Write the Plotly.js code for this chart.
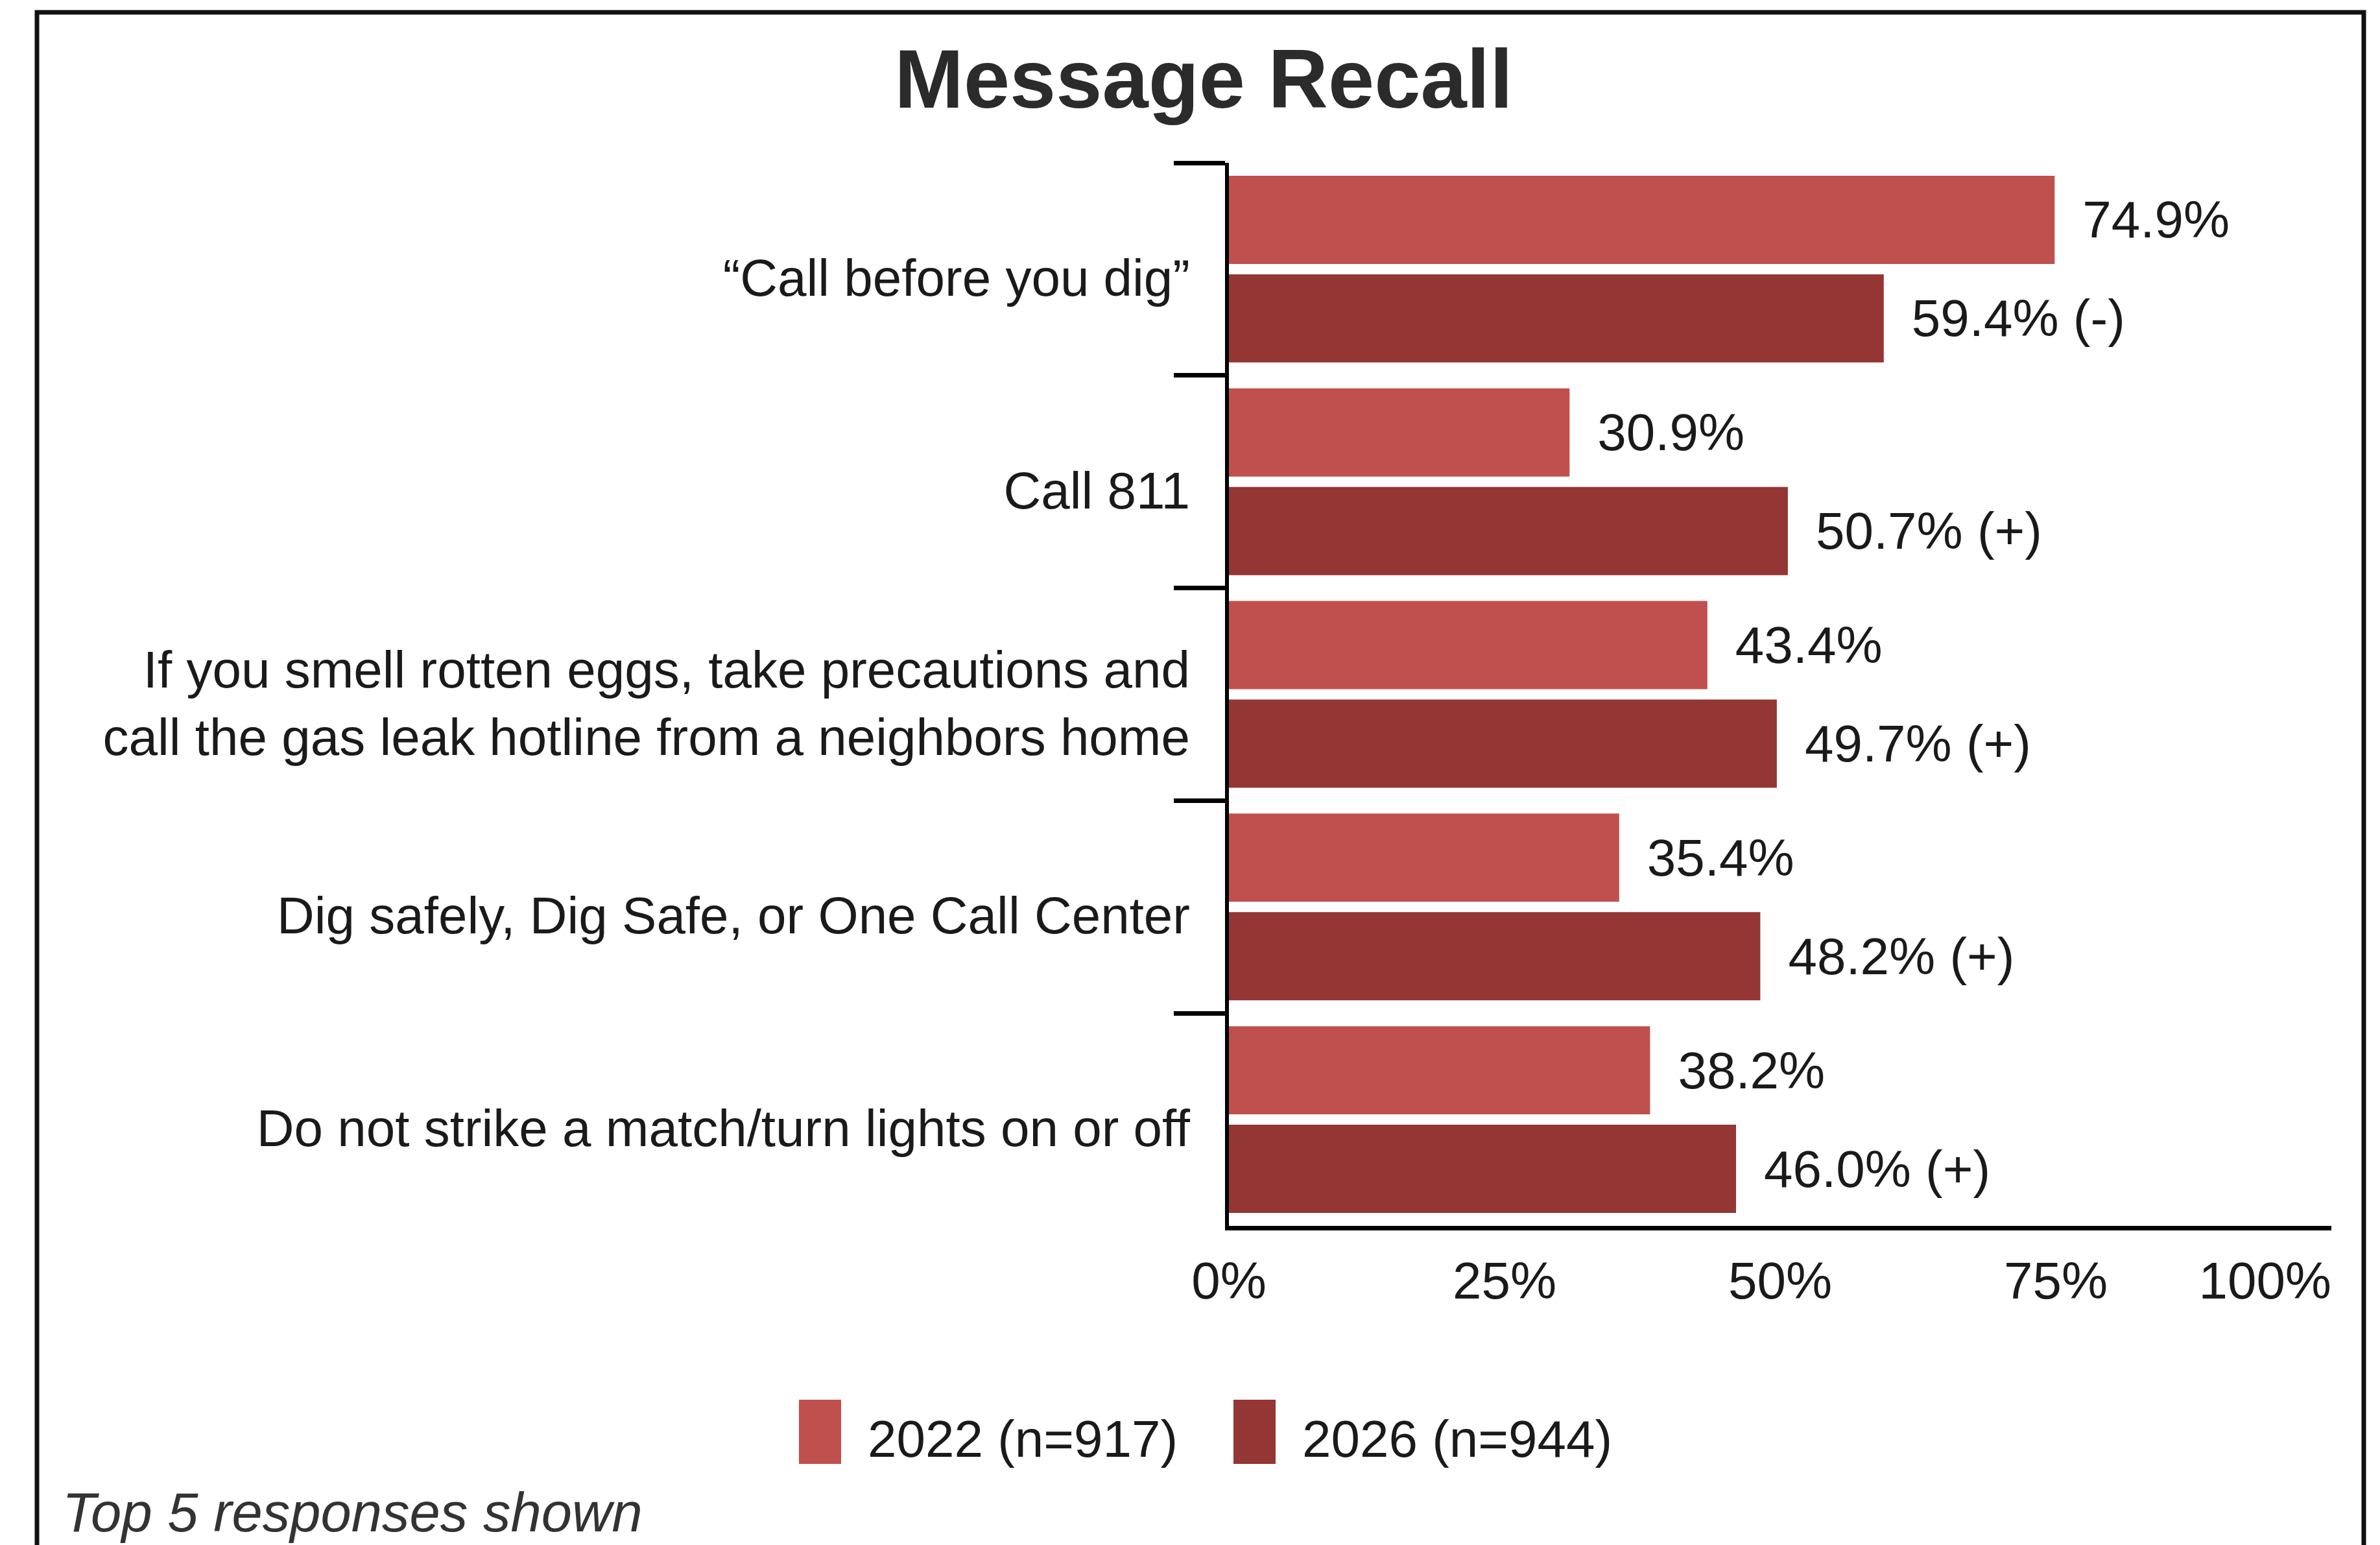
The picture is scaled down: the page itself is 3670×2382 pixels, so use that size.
<!DOCTYPE html>
<html>
<head>
<meta charset="utf-8">
<script src="https://cdn.plot.ly/plotly-3.0.1.min.js"></script>
<style>html,body{margin:0;padding:0;background:#fff;}#chart{width:3670px;height:2382px;}</style>
</head>
<body>
<div id="chart"></div>
<script>
// ---- data ----
const categories = [
  "\u201CCall before you dig\u201D",
  "Call 811",
  "If you smell rotten eggs, take precautions and<br>call the gas leak hotline from a neighbors home",
  "Dig safely, Dig Safe, or One Call Center",
  "Do not strike a match/turn lights on or off"
];
const seriesNames = ["2022 (n=917)", "2026 (n=944)"];
const values2022 = [74.9, 30.9, 43.4, 35.4, 38.2];
const values2026 = [59.4, 50.7, 49.7, 48.2, 46.0];
const sig2026 = ["(-)", "(+)", "(+)", "(+)", "(+)"];
const xTickVals = [0, 25, 50, 75];
const xTickText = ["0%", "25%", "50%", "75%"];
const xLastTickVal = [100];
const xLastTickText = ["100%"];
const chartTitle = "Message Recall";
const footnote = "Top 5 responses shown";

// ---- styles ----
const colors = ["#C0504D", "#943634"];
const FONT = "'Liberation Sans', Arial, sans-serif";
const TXT = "#1a1a1a";
const FS = 80;
const W = 3670, H = 2382;
const M = {l: 1895, r: 75, t: 251, b: 492};
const PW = W - M.l - M.r, PH = H - M.t - M.b;
const px = x => (x - M.l) / PW;
const py = y => (H - M.b - y) / PH;

const fmt = (v, s) => "\u2002" + v.toFixed(1) + "%" + (s ? " " + s : "");

const traces = [
  {
    type: "bar", orientation: "h", name: seriesNames[0],
    y: categories, x: values2022,
    marker: {color: colors[0]},
    text: values2022.map(v => fmt(v, "")),
    textposition: "outside", constraintext: "none", cliponaxis: false,
    textfont: {family: FONT, size: FS, color: TXT},
    hoverinfo: "skip", showlegend: false
  },
  {
    type: "bar", orientation: "h", name: seriesNames[1],
    y: categories, x: values2026,
    marker: {color: colors[1]},
    text: values2026.map((v, i) => fmt(v, sig2026[i])),
    textposition: "outside", constraintext: "none", cliponaxis: false,
    textfont: {family: FONT, size: FS, color: TXT},
    hoverinfo: "skip", showlegend: false
  },
  {
    // invisible helper to activate the overlay axis for the last tick label
    type: "scatter", mode: "markers", x: [null], y: [null], xaxis: "x2",
    showlegend: false, hoverinfo: "skip"
  }
];

// legend built from series names / colors
const legendItems = [
  {sq: [1232, 1297], tx: 1336},
  {sq: [1902, 1967], tx: 2006}
];
const shapes = [
  {type: "rect", xref: "paper", yref: "paper",
   x0: px(57), x1: px(3645), y0: py(19), y1: py(2420),
   line: {color: "#111", width: 7}, fillcolor: "rgba(0,0,0,0)", layer: "above"}
];
const annotations = [
  {xref: "paper", yref: "paper", x: px(94), y: py(2331), xanchor: "left", yanchor: "middle",
   text: "<i>" + footnote + "</i>", showarrow: false,
   font: {family: FONT, size: 85, color: "#333"}}
];
legendItems.forEach((it, i) => {
  shapes.push({type: "rect", xref: "paper", yref: "paper",
    x0: px(it.sq[0]), x1: px(it.sq[1]), y0: py(2158), y1: py(2257),
    line: {width: 0}, fillcolor: colors[i]});
  annotations.push({xref: "paper", yref: "paper", x: px(it.tx), y: py(2218),
    xanchor: "left", yanchor: "middle", text: seriesNames[i], showarrow: false,
    font: {family: FONT, size: FS, color: TXT}});
});

const layout = {
  width: W, height: H,
  margin: M,
  paper_bgcolor: "#fff", plot_bgcolor: "#fff",
  title: {
    text: "<b>" + chartTitle + "</b>",
    font: {family: FONT, size: 128, color: "#2b2b2b"},
    xref: "container", yref: "container",
    x: 1856 / W, xanchor: "center",
    y: 1 - 121 / H, yanchor: "middle"
  },
  barmode: "group",
  bargap: 0.073,
  bargroupgap: 0.105,
  showlegend: false,
  xaxis: {
    range: [0, 100], fixedrange: true,
    tickvals: xTickVals, ticktext: xTickText,
    ticks: "", showgrid: false, zeroline: false,
    showline: true, linecolor: "#000", linewidth: 7,
    tickfont: {family: FONT, size: FS, color: TXT},
    ticklabelstandoff: 9
  },
  xaxis2: {
    overlaying: "x", side: "bottom", range: [0, 100], fixedrange: true,
    tickvals: xLastTickVal, ticktext: xLastTickText,
    ticks: "", showgrid: false, zeroline: false, showline: false,
    ticklabelposition: "outside left",
    tickfont: {family: FONT, size: FS, color: TXT},
    ticklabelstandoff: 31
  },
  yaxis: {
    type: "category", autorange: "reversed", fixedrange: true,
    tickson: "boundaries", ticks: "outside", ticklen: 79, tickwidth: 7, tickcolor: "#000",
    showline: true, linecolor: "#000", linewidth: 6,
    showgrid: false, zeroline: false,
    tickfont: {family: FONT, size: FS, color: TXT},
    ticklabelstandoff: 38,
    ticklabelshift: -13
  },
  shapes: shapes,
  annotations: annotations
};

Plotly.newPlot("chart", traces, layout, {displayModeBar: false, staticPlot: true});
</script>
</body>
</html>
